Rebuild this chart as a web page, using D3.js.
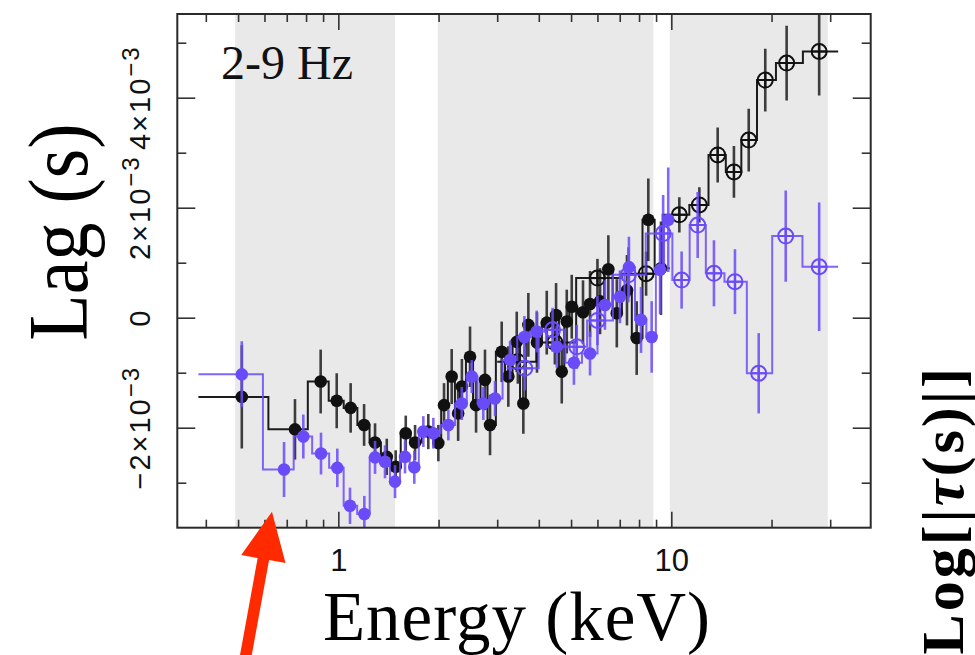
<!DOCTYPE html>
<html>
<head>
<meta charset="utf-8">
<script src="https://cdn.jsdelivr.net/npm/d3@7"></script>
<style>
  html, body { margin: 0; padding: 0; background: #fff; }
  svg { display: block; }
</style>
</head>
<body>
<svg id="chart" width="975" height="655"></svg>
<script>
// ---------------- data (energy in keV, lag in units of 10^-3 s) ----------------
const bandRanges = [[0.49, 1.48], [1.99, 8.83], [9.9, 29.5]];

const xMajorTicks = [1, 10];
const xTickLabels = ["1", "10"];
const xMinorTicks = [0.4, 0.5, 0.6, 0.7, 0.8, 0.9, 2, 3, 4, 5, 6, 7, 8, 9, 20, 30];
const yMajorTicks = [-2, 0, 2, 4];
const yTickMantissa = ["−2×10", "0", "2×10", "4×10"];
const yTickExponent = ["−3", "", "−3", "−3"];
const yMinorTicks = [-3, -1, 1, 3, 5];

// black, filled markers
const blackFilledEnergy = [0.513, 0.741, 0.885, 0.989, 1.089, 1.195, 1.289, 1.398, 1.487, 1.594,
  1.700, 1.863, 1.997, 2.077, 2.190, 2.290, 2.350, 2.486, 2.592, 2.757,
  2.855, 3.095, 3.240, 3.434, 3.594, 3.721, 3.95, 4.226, 4.507, 4.688,
  4.853, 5.023, 5.43, 5.70, 6.11, 6.47, 6.86, 7.36, 7.87, 8.53, 9.31];
const blackFilledLag = [-1.44, -2.03, -1.16, -1.51, -1.64, -1.95, -2.27, -2.53, -2.71, -2.10,
  -2.27, -2.07, -2.28, -1.59, -1.07, -1.74, -1.25, -0.71, -1.59, -1.13,
  -1.95, -0.62, -1.07, -0.44, -1.56, -0.13, -0.45, -0.09, 0.05, -0.98,
  -0.07, 0.20, 0.10, 0.25, 0.30, 0.88, 0.08, 0.50, -0.37, 1.78, 0.90];
const blackFilledErr = [0.94, 0.55, 0.58, 0.50, 0.45, 0.38, 0.35, 0.33, 0.30, 0.32,
  0.32, 0.32, 0.33, 0.40, 0.50, 0.50, 0.50, 0.55, 0.50, 0.55,
  0.55, 0.55, 0.55, 0.55, 0.55, 0.58, 0.55, 0.58, 0.58, 0.58,
  0.58, 0.58, 0.58, 0.6, 0.6, 0.62, 0.62, 0.64, 0.67, 0.75, 0.85];
const blackFilledBinLimits = [0.38, 9.9];

// black, open markers
const blackOpenEnergy = [3.46, 4.47, 6.0, 8.4, 10.57, 12.14, 13.78, 15.42, 17.08, 19.15, 22.2, 27.8];
const blackOpenLag = [-0.80, -0.45, 0.72, 0.80, 1.87, 2.05, 2.96, 2.65, 3.23, 4.32, 4.63, 4.84];
const blackOpenErr = [0.4, 0.4, 0.35, 0.4, 0.32, 0.32, 0.5, 0.47, 0.57, 0.57, 0.68, 0.8];
const blackOpenBinLimits = [3.0, 31.7];

// purple, filled markers
const purpleFilledEnergy = [0.513, 0.687, 0.785, 0.887, 0.993, 1.084, 1.197, 1.289, 1.381, 1.480,
  1.586, 1.691, 1.800, 1.929, 2.140, 2.348, 2.516, 2.725, 2.955, 3.28,
  3.62, 3.943, 4.53, 5.10, 5.70, 6.32, 7.01, 7.46, 8.11, 8.73, 9.25, 9.79];
const purpleFilledLag = [-1.03, -2.76, -2.16, -2.47, -2.73, -3.42, -3.57, -2.54, -2.62, -2.98,
  -2.53, -2.72, -2.07, -2.10, -1.95, -1.56, -1.07, -1.56, -1.47, -0.77,
  -0.35, -0.25, -0.53, -0.82, -0.65, 0.23, 0.38, 0.92, -0.04, -0.35, 0.87, 1.78];
const purpleFilledErr = [0.6, 0.5, 0.4, 0.38, 0.35, 0.33, 0.33, 0.3, 0.3, 0.3,
  0.3, 0.3, 0.28, 0.28, 0.28, 0.3, 0.3, 0.3, 0.32, 0.35,
  0.38, 0.38, 0.38, 0.4, 0.4, 0.45, 0.48, 0.55, 0.6, 0.65, 0.8, 0.95];
const purpleFilledBinLimits = [0.38, 10.1];

// purple, open markers
const purpleOpenEnergy = [3.63, 4.40, 5.20, 6.0, 7.43, 9.45, 10.74, 12.0, 13.43, 15.53, 18.3, 22.06, 27.8];
const purpleOpenLag = [-0.92, -0.22, -0.53, -0.05, 0.78, 1.53, 0.685, 1.685, 0.807, 0.655, -1.01, 1.485, 0.927];
const purpleOpenErr = [0.4, 0.4, 0.4, 0.45, 0.5, 0.7, 0.52, 0.6, 0.6, 0.59, 0.73, 0.83, 1.17];
const purpleOpenBinLimits = [3.2, 31.7];

// annotation arrow (energy keV, lag 10^-3 s)
const arrowTail = [0.5205, -6.33];
const arrowTip = [0.632, -3.53];

// ---------------- layout ----------------
const BLACK = "#111111";
const PURPLE = "#6a4bf8";
const svg = d3.select("#chart");
const plot = { left: 177.3, right: 870.7, top: 14, bottom: 527.7 };

const x = d3.scaleLog().domain([0.3284, 39.7]).range([plot.left, plot.right]);
const y = d3.scaleLinear().domain([-3.818, 5.522]).range([plot.bottom, plot.top]);

svg.append("rect").attr("width", 975).attr("height", 655).attr("fill", "#fff");

svg.append("defs").append("clipPath").attr("id", "plotClip")
  .append("rect")
  .attr("x", plot.left).attr("y", plot.top)
  .attr("width", plot.right - plot.left).attr("height", plot.bottom - plot.top);

// shaded energy bands
svg.append("g").selectAll("rect").data(bandRanges).join("rect")
  .attr("x", d => x(d[0]))
  .attr("width", d => x(d[1]) - x(d[0]))
  .attr("y", plot.top)
  .attr("height", plot.bottom - plot.top)
  .attr("fill", "#e9e9e9");

// ---------------- data series ----------------
function makeSeries(energy, lag, err, limits, color, filled) {
  const edges = [limits[0]];
  for (let i = 1; i < energy.length; i++) edges.push(Math.sqrt(energy[i - 1] * energy[i]));
  edges.push(limits[1]);
  const pts = energy.map((e, i) => ({ e, lag: lag[i], err: err[i], lo: edges[i], hi: edges[i + 1] }));
  return { pts, color, filled };
}

const seriesList = [
  makeSeries(blackFilledEnergy, blackFilledLag, blackFilledErr, blackFilledBinLimits, BLACK, true),
  makeSeries(blackOpenEnergy, blackOpenLag, blackOpenErr, blackOpenBinLimits, BLACK, false),
  makeSeries(purpleFilledEnergy, purpleFilledLag, purpleFilledErr, purpleFilledBinLimits, PURPLE, true),
  makeSeries(purpleOpenEnergy, purpleOpenLag, purpleOpenErr, purpleOpenBinLimits, PURPLE, false)
];

const dataLayer = svg.append("g").attr("clip-path", "url(#plotClip)");
const stepLine = d3.line().x(d => x(d[0])).y(d => y(d[1]));

seriesList.forEach(s => {
  const g = dataLayer.append("g");
  const stepPts = [];
  s.pts.forEach(p => { stepPts.push([p.lo, p.lag]); stepPts.push([p.hi, p.lag]); });
  g.append("path")
    .attr("d", stepLine(stepPts))
    .attr("fill", "none")
    .attr("stroke", s.color)
    .attr("stroke-opacity", s.color === PURPLE ? 0.85 : 0.95)
    .attr("stroke-width", 2);

  g.selectAll("line.err").data(s.pts).join("line")
    .attr("class", "err")
    .attr("x1", d => x(d.e)).attr("x2", d => x(d.e))
    .attr("y1", d => y(d.lag - d.err)).attr("y2", d => y(d.lag + d.err))
    .attr("stroke", s.color)
    .attr("stroke-opacity", s.color === PURPLE ? 0.85 : 0.8)
    .attr("stroke-width", 2.6);

  if (s.filled) {
    g.selectAll("circle").data(s.pts).join("circle")
      .attr("cx", d => x(d.e)).attr("cy", d => y(d.lag))
      .attr("r", 6.3)
      .attr("fill", s.color);
  } else {
    const r = 7.5;
    const m = g.selectAll("g.mk").data(s.pts).join("g").attr("class", "mk")
      .attr("transform", d => `translate(${x(d.e)},${y(d.lag)})`);
    m.append("circle").attr("r", r).attr("fill", "none")
      .attr("stroke", s.color).attr("stroke-width", 2);
    m.append("line").attr("x1", -r).attr("x2", r)
      .attr("stroke", s.color).attr("stroke-width", 2);
    m.append("line").attr("y1", -r).attr("y2", r)
      .attr("stroke", s.color).attr("stroke-width", 2);
  }
});

// ---------------- axes ----------------
const tickColor = "#333";
function styleAxis(g) {
  g.select(".domain").remove();
  g.selectAll(".tick line").attr("stroke", tickColor).attr("stroke-width", 1.6);
}

svg.append("g").attr("transform", `translate(0,${plot.bottom})`)
  .call(d3.axisBottom(x).tickValues(xMinorTicks).tickSize(-8).tickFormat(() => ""))
  .call(styleAxis);
svg.append("g").attr("transform", `translate(0,${plot.bottom})`)
  .call(d3.axisBottom(x).tickValues(xMajorTicks).tickSize(-16).tickPadding(21)
    .tickFormat((d, i) => xTickLabels[i]))
  .call(styleAxis)
  .call(g => g.selectAll("text")
    .attr("fill", "#111")
    .attr("font-family", "'Liberation Sans', Arial, sans-serif")
    .attr("font-size", 31));

svg.append("g").attr("transform", `translate(0,${plot.top})`)
  .call(d3.axisTop(x).tickValues(xMinorTicks).tickSize(-8).tickFormat(() => ""))
  .call(styleAxis);
svg.append("g").attr("transform", `translate(0,${plot.top})`)
  .call(d3.axisTop(x).tickValues(xMajorTicks).tickSize(-16).tickFormat(() => ""))
  .call(styleAxis);

svg.append("g").attr("transform", `translate(${plot.left},0)`)
  .call(d3.axisLeft(y).tickValues(yMinorTicks).tickSize(-9).tickFormat(() => ""))
  .call(styleAxis);
svg.append("g").attr("transform", `translate(${plot.left},0)`)
  .call(d3.axisLeft(y).tickValues(yMajorTicks).tickSize(-18).tickFormat(() => ""))
  .call(styleAxis);
svg.append("g").attr("transform", `translate(${plot.right},0)`)
  .call(d3.axisRight(y).tickValues(yMinorTicks).tickSize(-9).tickFormat(() => ""))
  .call(styleAxis);
svg.append("g").attr("transform", `translate(${plot.right},0)`)
  .call(d3.axisRight(y).tickValues(yMajorTicks).tickSize(-18).tickFormat(() => ""))
  .call(styleAxis);

// rotated y tick labels with superscript exponents
const yLab = svg.append("g")
  .attr("font-family", "'Liberation Sans', Arial, sans-serif")
  .attr("fill", "#111");
yMajorTicks.forEach((v, i) => {
  const t = yLab.append("text")
    .attr("transform", `translate(150,${y(v)}) rotate(-90)`)
    .attr("text-anchor", "middle")
    .attr("letter-spacing", 2)
    .attr("font-size", 29);
  t.append("tspan").text(yTickMantissa[i]);
  if (yTickExponent[i]) {
    t.append("tspan").attr("dy", "-0.46em").attr("font-size", 24).text(yTickExponent[i]);
  }
});

// frame
svg.append("rect")
  .attr("x", plot.left).attr("y", plot.top)
  .attr("width", plot.right - plot.left).attr("height", plot.bottom - plot.top)
  .attr("fill", "none").attr("stroke", "#2a2a2a").attr("stroke-width", 2);

// ---------------- titles ----------------
const serif = "'Liberation Serif', 'Times New Roman', serif";
svg.append("text")
  .attr("x", 221).attr("y", 79)
  .attr("font-family", serif).attr("font-size", 48).attr("fill", "#111")
  .text("2-9 Hz");

svg.append("text")
  .attr("x", 517).attr("y", 640)
  .attr("text-anchor", "middle")
  .attr("font-family", serif).attr("font-size", 69).attr("letter-spacing", 1)
  .attr("fill", "#000")
  .text("Energy (keV)");

svg.append("text")
  .attr("transform", `translate(87,232) rotate(-90) scale(1,1.12)`)
  .attr("text-anchor", "middle")
  .attr("font-family", serif).attr("font-size", 76).attr("fill", "#000")
  .text("Lag (s)");

// neighbouring panel's axis title, cut by the page edge
const sideTitle = svg.append("text")
  .attr("transform", `translate(963,365) rotate(-90)`)
  .attr("text-anchor", "end")
  .attr("font-family", serif).attr("font-size", 60).attr("font-weight", "bold")
  .attr("letter-spacing", 3).attr("fill", "#000");
sideTitle.append("tspan").text("Log[|");
sideTitle.append("tspan").attr("font-style", "italic").text("τ");
sideTitle.append("tspan").text("(s)|]");

// ---------------- annotation arrow ----------------
(function drawArrow() {
  const sx = x(arrowTail[0]), sy = y(arrowTail[1]);
  const tx = x(arrowTip[0]), ty = y(arrowTip[1]);
  const len = Math.hypot(tx - sx, ty - sy);
  const ux = (tx - sx) / len, uy = (ty - sy) / len;
  const nx = -uy, ny = ux;
  const headLen = 48, headHalf = 22.5, shaftHalf = 5.8;
  const bx = tx - ux * headLen, by = ty - uy * headLen;
  const pts = [
    [sx + nx * shaftHalf, sy + ny * shaftHalf],
    [bx + nx * shaftHalf, by + ny * shaftHalf],
    [bx + nx * headHalf, by + ny * headHalf],
    [tx, ty],
    [bx - nx * headHalf, by - ny * headHalf],
    [bx - nx * shaftHalf, by - ny * shaftHalf],
    [sx - nx * shaftHalf, sy - ny * shaftHalf]
  ];
  svg.append("path")
    .attr("d", "M" + pts.map(p => p.join(",")).join("L") + "Z")
    .attr("fill", "#ff2a00");
})();
</script>
</body>
</html>
